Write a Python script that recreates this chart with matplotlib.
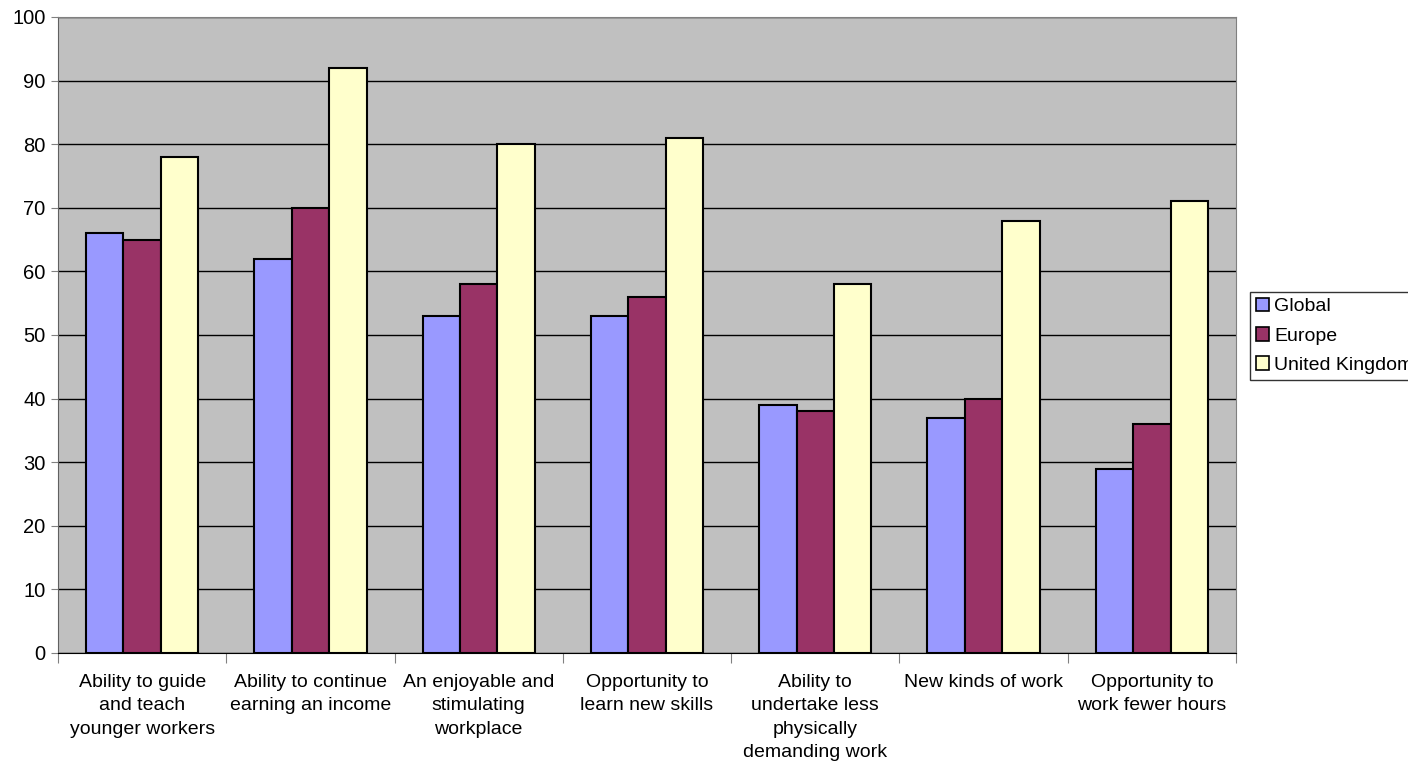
import matplotlib
matplotlib.use("Agg")
import matplotlib.pyplot as plt
import numpy as np
from matplotlib.patches import Patch

categories = [
    "Ability to guide\nand teach\nyounger workers",
    "Ability to continue\nearning an income",
    "An enjoyable and\nstimulating\nworkplace",
    "Opportunity to\nlearn new skills",
    "Ability to\nundertake less\nphysically\ndemanding work",
    "New kinds of work",
    "Opportunity to\nwork fewer hours",
]
series_names = ["Global", "Europe", "United Kingdom"]
global_vals = [66, 62, 53, 53, 39, 37, 29]
europe_vals = [65, 70, 58, 56, 38, 40, 36]
uk_vals = [78, 92, 80, 81, 58, 68, 71]
colors = ["#9999FF", "#993366", "#FFFFCC"]

plt.rcParams["font.family"] = ["Liberation Sans", "DejaVu Sans"]
plt.rcParams["font.size"] = 14

fig = plt.figure(figsize=(14.08, 7.66), dpi=100)
ax = fig.add_axes([58 / 1408, 1 - 653 / 766, (1236 - 58) / 1408, (653 - 17) / 766])
ax.set_facecolor("#C0C0C0")

x = np.arange(len(categories))
width = 1 / 4.5
for i, vals in enumerate([global_vals, europe_vals, uk_vals]):
    ax.bar(x + (i - 1) * width, vals, width, color=colors[i],
           edgecolor="black", linewidth=1.5, zorder=3)

ax.set_xlim(-0.5, len(categories) - 0.5)
ax.set_ylim(0, 100)
ax.set_yticks(range(0, 101, 10))
ax.yaxis.grid(True, color="black", linewidth=1)
ax.set_axisbelow(True)

# category boundaries carry the tick marks, the labels sit between them
ax.set_xticks(np.arange(-0.5, len(categories), 1))
ax.set_xticklabels([])
ax.set_xticks(x, minor=True)
ax.set_xticklabels(categories, minor=True, fontsize=14, linespacing=1.5,
                   verticalalignment="top")
ax.tick_params(axis="x", which="minor", length=0, pad=15)
ax.tick_params(axis="x", which="major", length=7, color="#808080")
ax.tick_params(axis="y", length=5, color="#808080", labelsize=14.5, pad=4)

for side in ["top", "right"]:
    ax.spines[side].set_color("#808080")
ax.spines["left"].set_color("#606060")
ax.spines["bottom"].set_color("black")

handles = [Patch(facecolor=c, edgecolor="black", linewidth=1.2) for c in colors]
fig.legend(handles, series_names, loc="upper left",
           bbox_to_anchor=(1250 / 1408, 1 - 292 / 766),
           frameon=True, fancybox=False, edgecolor="black", fontsize=14,
           handlelength=0.7, handleheight=0.7, handletextpad=0.25,
           labelspacing=0.6, borderpad=0.3, borderaxespad=0)

fig.savefig("out.png", dpi=100)
